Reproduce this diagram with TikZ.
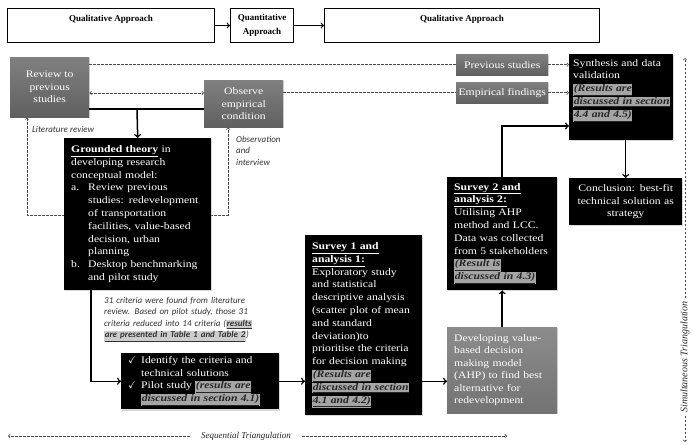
\documentclass[tikz,border=0pt]{standalone}
\usepackage{amsmath}
\usepackage{amssymb}
\usepackage{fontspec}
\setmainfont[FakeStretch=1.17]{Liberation Serif}
\newfontfamily\hdrfont{Liberation Serif}
\newfontfamily\notefont{Carlito}
\usepackage{tikz}
\usetikzlibrary{arrows,shapes,positioning,shadows}
\usepackage{xcolor}
\definecolor{mggraytop}{RGB}{128,128,128}
\definecolor{mggraybot}{RGB}{96,96,96}
\definecolor{mglighttop}{RGB}{140,140,140}
\definecolor{mglightbot}{RGB}{115,115,115}
\definecolor{mghl}{RGB}{165,165,165}
\definecolor{mgnotehl}{RGB}{205,205,205}
\newcommand{\reshl}[1]{{\setlength{\fboxsep}{0.6pt}\colorbox{mghl}{\textcolor{black!85}{\bfseries\itshape\underline{#1}}}}}
\newcommand{\notehl}[1]{{\setlength{\fboxsep}{0.6pt}\colorbox{mgnotehl}{\bfseries\underline{#1}}}}
\newcommand{\tick}{\makebox[13pt][l]{$\checkmark$}}
\newcommand{\enumlbl}[1]{\makebox[17pt][l]{#1}}
\newcommand{\enumind}{\hspace*{17pt}}
\tikzstyle{arrow} = [line width=1.5pt,->,>=to]
\tikzstyle{dashline} = [line width=0.7pt, dash pattern=on 2.5pt off 1.5pt, color=black!70]
\tikzstyle{dasharrow} = [dashline, ->, >=to]
\tikzstyle{header} = [rectangle, draw=black, line width=1pt, fill=white, anchor=north west, align=center, inner sep=0pt, font=\hdrfont\bfseries\fontsize{9}{13.5}\selectfont]
\tikzstyle{darkbox} = [rectangle, fill=black, text=white, anchor=north west, align=left, inner xsep=7pt, inner ysep=3pt, font=\fontsize{10}{12.8}\selectfont, drop shadow={shadow xshift=1.2pt, shadow yshift=-1.2pt, opacity=0.3}]
\tikzstyle{graybox} = [rectangle, top color=mggraytop, bottom color=mggraybot, text=white, anchor=north west, align=center, inner sep=2pt, font=\fontsize{10}{12.5}\selectfont, drop shadow={shadow xshift=1.2pt, shadow yshift=-1.2pt, opacity=0.3}]
\tikzstyle{note} = [inner sep=0pt, align=left, text=black!80, font=\notefont\itshape\fontsize{9}{11.5}\selectfont]

\begin{document}
\begin{tikzpicture}[x=1pt, y=-1pt]
\useasboundingbox (0,0) rectangle (692,444);
\fill[white] (0,0) rectangle (692,444);

% Approach bar
\node[header, minimum width=207pt, minimum height=34pt] (qual1) at (7,8) {Qualitative Approach\\\mbox{}};
\node[header, minimum width=63pt, minimum height=34pt] (quant) at (230,8) {Quantitative\\Approach};
\node[header, minimum width=275pt, minimum height=34pt] (qual2) at (324,8) {Qualitative Approach\\\mbox{}};
\draw[arrow, line width=1.2pt] (qual1) -- (quant);
\draw[arrow, line width=1.2pt] (quant) -- (qual2);

% Literature and empirical inputs
\node[graybox, minimum width=79pt, minimum height=60pt] (review) at (10,57) {Review to\\previous\\studies};
\node[graybox, minimum width=79pt, minimum height=47pt] (observe) at (204,80) {Observe\\empirical\\condition};
\node[graybox, minimum width=92pt, minimum height=21pt] (prevst) at (456,54) {Previous studies};
\node[graybox, minimum width=92pt, minimum height=21pt] (empfind) at (456,82) {Empirical findings};

\coordinate (revobs) at (0,93);
\coordinate (joinpt) at (137,109);
\coordinate (loopl) at (27,215);
\coordinate (loopr) at (228,215);
\draw[dasharrow, <->] (review.east |- revobs) -- (observe.west |- revobs);
\draw[dasharrow, <->] (review.south -| loopl) -- (loopl) -- (loopr) -- (observe.south -| loopr);
\draw[dashline] (review.east |- prevst) -- (prevst.west);
\draw[dashline] (observe.east |- empfind) -- (empfind.west);
\draw[line width=1.5pt] (review.east |- joinpt) -- (observe.west |- joinpt);

\node[note, anchor=west] (litrev) at (32,129) {Literature review};
\node[note, anchor=north west] (obsint) at (236,136) {Observation\\and\\interview};

% Qualitative stage
\node[darkbox, minimum width=147pt, minimum height=152pt, text width=133pt] (grounded) at (64,138) {\underline{\textbf{Grounded theory}} in\\ developing research\\ conceptual model:\\ \enumlbl{a.}Review previous\\ \enumind studies: redevelopment\\ \enumind of transportation\\ \enumind facilities, value-based\\ \enumind decision, urban\\ \enumind planning\\ \enumlbl{b.}Desktop benchmarking\\ \enumind and pilot study};
\draw[arrow] (joinpt) -- (grounded.north);

\node[note, anchor=north west, text width=165pt] (critnote) at (104,297) {31 criteria were found from literature\\ review. Based on pilot study, those 31\\ criteria reduced into 14 criteria (\notehl{results}\\ \notehl{are presented in Table 1 and Table 2})};

\node[darkbox, minimum width=158pt, minimum height=55pt, text width=144pt] (identify) at (121,353) {\tick Identify the criteria and\\ \hspace*{13pt}technical solutions\\ \tick Pilot study \reshl{(results are}\\ \hspace*{13pt}\reshl{discussed in section 4.1)}};

% Quantitative stage
\node[darkbox, minimum width=117pt, minimum height=180pt, text width=103pt] (survey1) at (305,235) {\underline{\textbf{Survey 1 and}}\\ \underline{\textbf{analysis 1:}}\\ Exploratory study\\ and statistical\\ descriptive analysis\\ (scatter plot of mean\\ and standard\\ deviation)to\\ prioritise the criteria\\ for decision making\\ \reshl{(Results are}\\ \reshl{discussed in section}\\ \reshl{4.1 and 4.2)}};

\node[graybox, top color=mglighttop, bottom color=mglightbot, align=left, inner xsep=7pt, minimum width=110pt, minimum height=86pt, text width=96pt] (develop) at (447,327) {Developing value-\\ based decision\\ making model\\ (AHP) to find best\\ alternative for\\ redevelopment};

\node[darkbox, minimum width=110pt, minimum height=113pt, text width=96pt] (survey2) at (447,177) {\underline{\textbf{Survey 2 and}}\\ \underline{\textbf{analysis 2:}}\\ Utilising AHP\\ method and LCC.\\ Data was collected\\ from 5 stakeholders\\ \reshl{(Result is}\\ \reshl{discussed in 4.3)}};

% Final qualitative stage
\node[darkbox, inner xsep=4pt, minimum width=104pt, minimum height=86pt, text width=96pt] (synth) at (569,54) {\parbox[t][76pt][t]{96pt}{\raggedright Synthesis and data\\ validation\\ \reshl{(Results are}\\ \reshl{discussed in section}\\ \reshl{4.4 and 4.5)}}};
\node[darkbox, align=center, inner xsep=5pt, minimum width=113pt, minimum height=47pt, text width=103pt] (concl) at (569,178) {Conclusion: best-fit\\ technical solution as\\ strategy};

\coordinate (gturn) at (91,0);
\coordinate (synthin) at (569,126);
\draw[arrow] (grounded.south -| gturn) |- (identify.west);
\draw[arrow] (identify.east) -- (identify.east -| survey1.west);
\draw[arrow] (identify.east -| survey1.east) -- (identify.east -| develop.west);
\draw[arrow] (develop.north) -- (survey2.south);
\draw[arrow] (survey2.north) |- (synthin);
\draw[arrow] (synth.south -| concl.north) -- (concl.north);
\draw[dasharrow] (prevst) -- (prevst -| synth.west);
\draw[dasharrow] (empfind) -- (empfind -| synth.west);

% Triangulation
\node[inner xsep=11pt, inner ysep=0pt, text=black!85, font=\hdrfont\itshape\fontsize{9}{11}\selectfont] (seqtri) at (246,436) {Sequential Triangulation};
\coordinate (seqleft) at (8,436);
\coordinate (seqright) at (507,436);
\draw[dasharrow] (seqtri) -- (seqleft);
\draw[dasharrow] (seqtri) -- (seqright);

\node[rotate=90, inner xsep=3pt, inner ysep=0pt, text=black!85, font=\hdrfont\itshape\fontsize{10}{12}\selectfont] (simtri) at (685,357) {Simultaneous Triangulation};
\coordinate (simtop) at (685,58);
\coordinate (simbot) at (685,442);
\draw[dasharrow] (simtri) -- (simtop);
\draw[dasharrow] (simtri) -- (simbot);
\end{tikzpicture}
\end{document}
